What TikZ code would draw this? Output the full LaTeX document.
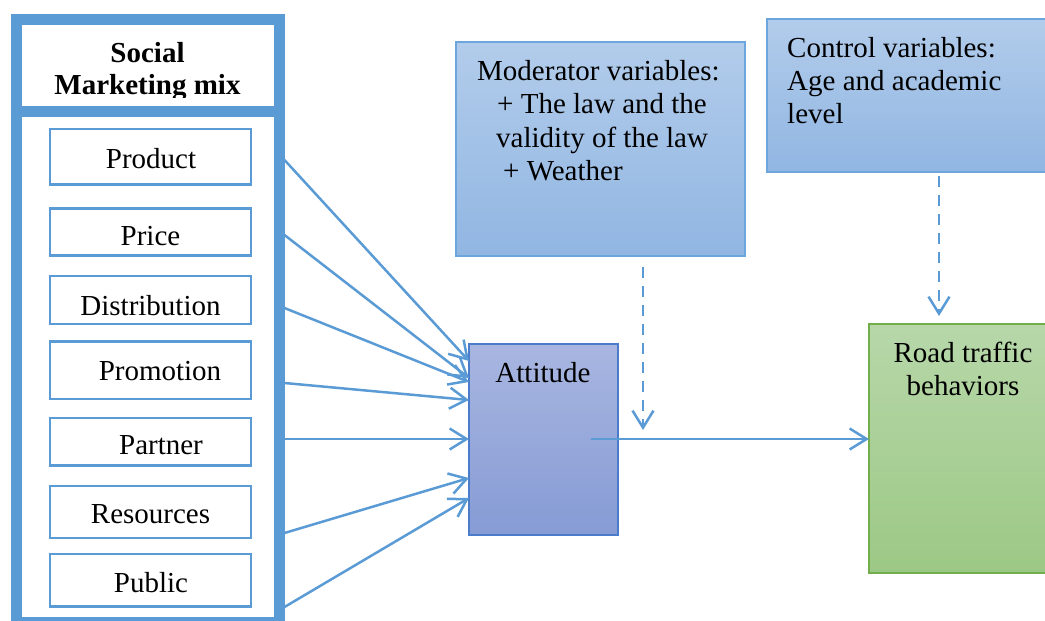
\documentclass[tikz,border=0pt]{standalone}
\usepackage{fontspec}
\setmainfont{Liberation Serif}
\usetikzlibrary{arrows.meta}
\definecolor{lineblue}{HTML}{5B9BD5}
\definecolor{modtop}{HTML}{B2CCEB}
\definecolor{modbot}{HTML}{91B6E2}
\definecolor{modborder}{HTML}{6CA6DD}
\definecolor{atttop}{HTML}{A8B6E0}
\definecolor{attbot}{HTML}{869BD5}
\definecolor{attborder}{HTML}{4A7CCB}
\definecolor{roadtop}{HTML}{B7D7A9}
\definecolor{roadbot}{HTML}{9CC885}
\definecolor{roadborder}{HTML}{72AE4C}
\begin{document}
\begin{tikzpicture}[x=1pt,y=-1pt,
  txt/.style={font=\fontsize{29}{33}\selectfont, inner sep=0pt, anchor=base},
  ltxt/.style={txt, anchor=base west},
  ttl/.style={txt, font=\fontsize{29}{33}\selectfont\bfseries},
  mixbox/.style={draw=lineblue, line width=11pt, outer sep=5.5pt, minimum width=263pt, minimum height=603pt, inner sep=0pt},
  itembox/.style={draw=lineblue, line width=2.5pt, fill=white, minimum width=201pt, inner sep=0pt, outer sep=0pt},
  varbox/.style={draw=modborder, line width=1.5pt, top color=modtop, bottom color=modbot, inner sep=0pt, outer sep=0pt},
  attbox/.style={draw=attborder, line width=1.5pt, top color=atttop, bottom color=attbot, inner sep=0pt, outer sep=0pt},
  roadbox/.style={draw=roadborder, line width=1.5pt, top color=roadtop, bottom color=roadbot, inner sep=0pt, outer sep=0pt},
  link/.style={draw=lineblue, line width=2.5pt, -{Straight Barb[length=17pt,width=21pt]}},
  dlink/.style={link, dash pattern=on 11pt off 8pt}
]
\useasboundingbox (0,0) rectangle (1045,621);

% left panel
\node[mixbox] (mix) at (147.5,320.5) {};
\draw[lineblue, line width=11pt] (mix.west |- 0,111.5) -- (mix.east |- 0,111.5);
\begin{scope}
  \clip (22,25) rectangle (273,97);
  \node[ttl] (title1) at (147.5,62) {Social};
  \node[ttl] (title2) at (147.5,94) {Marketing mix};
\end{scope}

\node[itembox, minimum height=55.5pt] (product) at (150.5,156.5) {};
\node[itembox, minimum height=46.7pt] (price) at (150.5,232) {};
\node[itembox, minimum height=48pt] (distribution) at (150.5,300) {};
\node[itembox, minimum height=57.8pt] (promotion) at (150.5,370.3) {};
\node[itembox, minimum height=47.5pt] (partner) at (150.5,441.5) {};
\node[itembox, minimum height=52pt] (resources) at (150.5,512) {};
\node[itembox, minimum height=52.5pt] (public) at (150.5,580.2) {};

\node[txt] (tproduct) at (151,168) {Product};
\node[txt] (tprice) at (150.5,245.5) {Price};
\node[txt] (tdistribution) at (150.5,315) {Distribution};
\node[txt] (tpromotion) at (160,380) {Promotion};
\node[txt] (tpartner) at (161,454) {Partner};
\node[txt] (tresources) at (150.5,523.5) {Resources};
\node[txt] (tpublic) at (151,592) {Public};

% moderator box
\node[varbox, minimum width=289pt, minimum height=214pt] (mod) at (600.5,149) {};
\node[ltxt] (mod1) at (477,80) {Moderator variables:};
\node[ltxt] (mod2) at (497,113) {+ The law and the};
\node[ltxt] (mod3) at (496,147) {validity of the law};
\node[ltxt] (mod4) at (503,180) {+ Weather};

% control box
\node[varbox, minimum width=293pt, minimum height=153pt] (ctrl) at (913.5,95.5) {};
\node[ltxt] (ctrl1) at (787,57) {Control variables:};
\node[ltxt] (ctrl2) at (787,90) {Age and academic};
\node[ltxt] (ctrl3) at (787,123) {level};

% attitude
\node[attbox, minimum width=149pt, minimum height=191pt] (att) at (543.5,439.5) {};
\node[txt] (tatt) at (543,382) {Attitude};

% road traffic behaviours
\node[roadbox, minimum width=191pt, minimum height=249pt] (road) at (964.5,448.5) {};
\node[txt] (troad1) at (963,362) {Road traffic};
\node[txt] (troad2) at (963,395) {behaviors};

% connectors from the mix
\draw[link] (mix.east |- 0,160) -- (att.west |- 0,361);
\draw[link] (mix.east |- 0,235) -- (att.west |- 0,378);
\draw[link] (mix.east |- 0,308) -- (att.west |- 0,382);
\draw[link] (mix.east |- 0,383) -- (att.west |- 0,400);
\draw[link] (mix.east |- 0,439) -- (att.west |- 0,439);
\draw[link] (mix.east |- 0,533) -- (att.west |- 0,478);
\draw[link] (mix.east |- 0,607) -- (att.west |- 0,498);

% attitude -> road
\coordinate (attout) at (591,439);
\draw[link] (attout) -- (road.west |- attout);

% dashed influences
\coordinate (modstart) at (643,267);
\coordinate (modend) at (643,430);
\draw[dlink] (modstart) -- (modend);
\coordinate (ctrlstart) at (939,176);
\coordinate (ctrlend) at (939,316);
\draw[dlink] (ctrlstart) -- (ctrlend);
\end{tikzpicture}
\end{document}
